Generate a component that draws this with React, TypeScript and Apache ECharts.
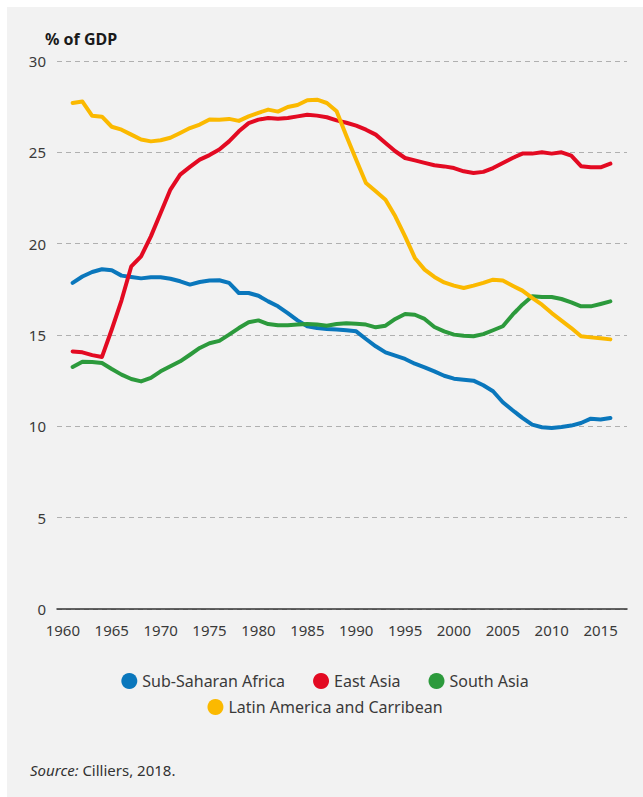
import React, { useEffect, useRef } from "react";
import * as echarts from "echarts";

const years: number[] = [];
for (let y = 1961; y <= 2016; y++) years.push(y);

const seriesNames = ["Sub-Saharan Africa", "East Asia", "South Asia", "Latin America and Carribean"];
const seriesColors = ["#0a77bc", "#e30a22", "#2c9a3c", "#fbb900"];

const subSaharanAfrica = [
  17.85, 18.2, 18.45, 18.6, 18.54, 18.25, 18.18, 18.1, 18.16, 18.16,
  18.08, 17.94, 17.76, 17.9, 17.98, 18.0, 17.85, 17.3, 17.3, 17.15,
  16.84, 16.57, 16.2, 15.8, 15.48, 15.38, 15.33, 15.3, 15.26, 15.2,
  14.78, 14.38, 14.05, 13.87, 13.69, 13.43, 13.23, 13.01, 12.77, 12.61,
  12.55, 12.5, 12.25, 11.92, 11.32, 10.88, 10.46, 10.09, 9.95, 9.91,
  9.96, 10.04, 10.18, 10.42, 10.37, 10.46,
];
const eastAsia = [
  14.1, 14.05, 13.9, 13.8, 15.3, 16.9, 18.76, 19.3, 20.4, 21.68,
  22.96, 23.78, 24.2, 24.6, 24.85, 25.15, 25.6, 26.15, 26.6, 26.79,
  26.88, 26.84, 26.88, 26.97, 27.06, 27.01, 26.92, 26.75, 26.62, 26.46,
  26.24, 25.97, 25.51, 25.06, 24.69, 24.56, 24.42, 24.29, 24.23, 24.14,
  23.96, 23.87, 23.93, 24.14, 24.42, 24.69, 24.93, 24.93, 25.0, 24.93,
  25.0, 24.82, 24.24, 24.18, 24.18, 24.38,
];
const southAsia = [
  13.25, 13.54, 13.52, 13.47, 13.14, 12.83, 12.59, 12.46, 12.65, 13.01,
  13.29, 13.56, 13.92, 14.29, 14.55, 14.68, 15.02, 15.38, 15.7, 15.8,
  15.6, 15.53, 15.53, 15.57, 15.6, 15.57, 15.51, 15.6, 15.64, 15.62,
  15.57, 15.42, 15.51, 15.88, 16.15, 16.11, 15.88, 15.44, 15.2, 15.02,
  14.96, 14.93, 15.05, 15.26, 15.48, 16.11, 16.66, 17.12, 17.08, 17.08,
  16.97, 16.79, 16.57, 16.57, 16.7, 16.84,
];
const latinAmerica = [
  27.7, 27.78, 27.0, 26.95, 26.4, 26.24, 25.97, 25.7, 25.6, 25.66,
  25.8, 26.06, 26.33, 26.52, 26.8, 26.79, 26.83, 26.72, 26.97, 27.16,
  27.34, 27.23, 27.48, 27.59, 27.85, 27.88, 27.7, 27.25, 25.9, 24.6,
  23.32, 22.87, 22.41, 21.5, 20.4, 19.22, 18.58, 18.18, 17.88, 17.7,
  17.57, 17.7, 17.85, 18.03, 17.98, 17.7, 17.43, 17.03, 16.66, 16.2,
  15.79, 15.38, 14.93, 14.87, 14.82, 14.76,
];
const xTickLabels = [1960, 1965, 1970, 1975, 1980, 1985, 1990, 1995, 2000, 2005, 2010, 2015];
const yTicks = { min: 0, max: 30, interval: 5 };

const allSeries = [subSaharanAfrica, eastAsia, southAsia, latinAmerica];
const FONT = "'Noto Sans', sans-serif";

export default function App() {
  const ref = useRef<HTMLDivElement>(null);
  useEffect(() => {
    if (!ref.current) return;
    const chart = echarts.init(ref.current, null, { renderer: "svg" });
    const legendBase = {
      left: "center",
      icon: "circle",
      itemWidth: 16,
      itemHeight: 16,
      itemGap: 28,
      textStyle: { fontSize: 16, color: "#3a3a3a", fontFamily: FONT },
    };
    chart.setOption({
      animation: false,
      backgroundColor: "#f2f2f2",
      textStyle: { fontFamily: FONT },
      grid: { left: 50, right: 16, top: 54, bottom: 188, containLabel: false },
      xAxis: {
        type: "value",
        min: 1959.4,
        max: 2017.7,
        axisLine: { show: true, lineStyle: { color: "#333", width: 1.5 } },
        axisTick: { show: false },
        splitLine: { show: false },
        axisLabel: {
          customValues: xTickLabels,
          formatter: (v: number) => String(Math.round(v)),
          color: "#3a3a3a",
          fontSize: 15,
          margin: 13,
          fontFamily: FONT,
        },
      },
      yAxis: {
        type: "value",
        min: yTicks.min,
        max: yTicks.max,
        interval: yTicks.interval,
        axisLine: { show: false },
        axisTick: { show: false },
        axisLabel: { color: "#3a3a3a", fontSize: 15, margin: 11, fontFamily: FONT },
        splitLine: { show: true, lineStyle: { color: "#b0b0b0", width: 1.2, type: [5, 4] } },
      },
      legend: [
        { ...legendBase, data: seriesNames.slice(0, 3), top: 661 },
        { ...legendBase, data: seriesNames.slice(3), top: 687 },
      ],
      graphic: [
        {
          type: "text",
          left: 38,
          top: 24,
          style: { text: "% of GDP", fontSize: 16, fontWeight: "bold", fill: "#1a1a1a", fontFamily: FONT },
        },
        {
          type: "text",
          left: 23,
          top: 755,
          style: {
            text: "{i|Source:} Cilliers, 2018.",
            fontSize: 15,
            fill: "#333",
            fontFamily: FONT,
            rich: { i: { fontStyle: "italic", fontSize: 15, fill: "#333", fontFamily: FONT } },
          },
        },
      ],
      series: allSeries.map((vals, i) => ({
        name: seriesNames[i],
        type: "line",
        data: years.map((y, k) => [y, vals[k]]),
        showSymbol: false,
        symbol: "none",
        color: seriesColors[i],
        lineStyle: { width: 4, color: seriesColors[i], cap: "round", join: "round" },
        z: 2 + i,
      })),
    });
    return () => chart.dispose();
  }, []);
  return (
    <div style={{ position: "fixed", left: 7, top: 7, width: 636, height: 790, background: "#f2f2f2" }}>
      <div ref={ref} style={{ width: 636, height: 790 }} />
    </div>
  );
}
